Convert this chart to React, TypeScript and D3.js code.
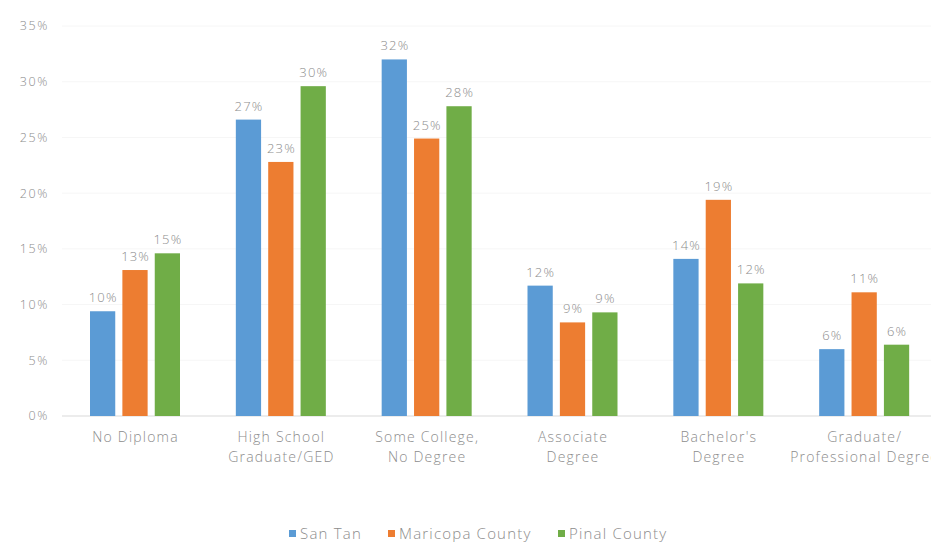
import React from "react";
import * as d3 from "d3";

const categories = [
  ["No Diploma"],
  ["High School", "Graduate/GED"],
  ["Some College,", "No Degree"],
  ["Associate", "Degree"],
  ["Bachelor's", "Degree"],
  ["Graduate/", "Professional Degree"],
];
const seriesNames = ["San Tan", "Maricopa County", "Pinal County"];
const sanTan = [9.4, 26.6, 32.0, 11.7, 14.1, 6.0];
const maricopa = [13.1, 22.8, 24.9, 8.4, 19.4, 11.1];
const pinal = [14.6, 29.6, 27.8, 9.3, 11.9, 6.4];
const labelsSanTan = ["10%", "27%", "32%", "12%", "14%", "6%"];
const labelsMaricopa = ["13%", "23%", "25%", "9%", "19%", "11%"];
const labelsPinal = ["15%", "30%", "28%", "9%", "12%", "6%"];
const yTicks = [0, 5, 10, 15, 20, 25, 30, 35];
const colors = ["#5B9BD5", "#ED7D31", "#70AD47"];

const W = 931;
const H = 546;
const FONT = "'Open Sans', sans-serif";
const TXT = "#8c8c8c";

export default function App() {
  const values = [sanTan, maricopa, pinal];
  const labels = [labelsSanTan, labelsMaricopa, labelsPinal];
  const x0 = d3
    .scaleBand<number>()
    .domain(categories.map((_, i) => i))
    .range([62, 937])
    .paddingInner(0)
    .paddingOuter(0);
  const x1 = d3
    .scaleBand<number>()
    .domain([0, 1, 2])
    .range([28, 118])
    .paddingInner(0.22);
  const y = d3.scaleLinear().domain([0, 35]).range([416, 26]);

  return (
    <svg
      width={W}
      height={H}
      style={{ position: "absolute", left: 0, top: 0, background: "#fff" }}
      fontFamily={FONT}
      fontWeight={300}
    >
      {yTicks.map((t) => (
        <g key={t}>
          {t > 0 && (
            <line x1={62} x2={W} y1={y(t)} y2={y(t)} stroke="#f6f6f6" strokeWidth={1} />
          )}
          <text
            x={49}
            y={y(t)}
            dy="0.35em"
            textAnchor="end"
            fontSize={12.5}
            letterSpacing={1.6}
            fill={TXT}
          >
            {t}%
          </text>
        </g>
      ))}
      <line x1={62} x2={W} y1={y(0)} y2={y(0)} stroke="#d9d9d9" strokeWidth={1} />
      {categories.map((cat, ci) => (
        <g key={ci} transform={`translate(${x0(ci)},0)`}>
          {values.map((vals, si) => (
            <g key={si}>
              <rect
                x={x1(si)}
                y={y(vals[ci])}
                width={x1.bandwidth()}
                height={y(0) - y(vals[ci])}
                fill={colors[si]}
              />
              <text
                x={(x1(si) as number) + x1.bandwidth() / 2 + 0.6}
                y={y(vals[ci]) - 9}
                textAnchor="middle"
                fontSize={13}
                letterSpacing={1.2}
                fill={TXT}
              >
                {labels[si][ci]}
              </text>
            </g>
          ))}
          {cat.map((line, li) => (
            <text
              key={li}
              x={x0.bandwidth() / 2 + 0.6}
              y={442 + li * 20}
              textAnchor="middle"
              fontSize={14}
              letterSpacing={1.2}
              fill={TXT}
            >
              {line}
            </text>
          ))}
        </g>
      ))}
      {seriesNames.map((name, i) => {
        const lx = [289, 388, 558][i];
        return (
          <g key={name}>
            <rect x={lx} y={530} width={7} height={7} fill={colors[i]} />
            <text x={lx + 11} y={539} fontSize={15} letterSpacing={1.2} fill={TXT}>
              {name}
            </text>
          </g>
        );
      })}
    </svg>
  );
}
